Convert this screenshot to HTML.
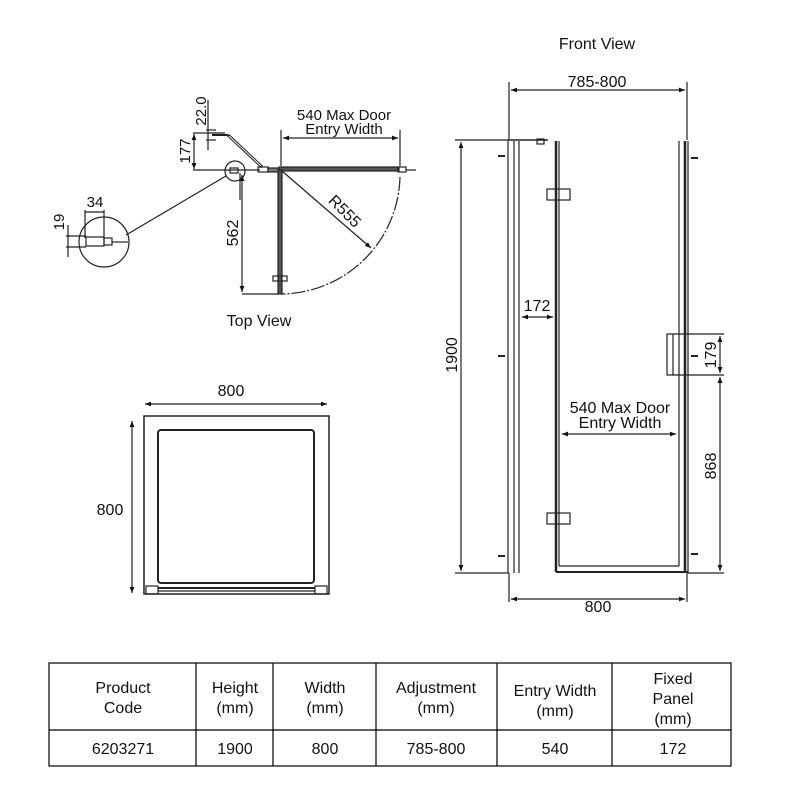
<!DOCTYPE html>
<html><head><meta charset="utf-8"><style>body{margin:0;background:#fff}svg{display:block}text{font-family:"Liberation Sans",sans-serif;fill:#111}</style></head><body>
<svg width="800" height="800" viewBox="0 0 800 800" xmlns="http://www.w3.org/2000/svg">
<defs><marker id="a" viewBox="0 0 10 10" refX="10" refY="5" markerWidth="8" markerHeight="6" orient="auto-start-reverse" markerUnits="userSpaceOnUse"><path d="M0,1L10,5L0,9z" fill="#111"/></marker></defs>
<g stroke="#222" fill="none" stroke-width="1.2">
<!-- TOP VIEW -->
<line x1="215" y1="170" x2="260" y2="170"/>
<rect x="258" y="167" width="10" height="5"/>
<rect x="268" y="168" width="12" height="4" fill="#777"/>
<rect x="279" y="167" width="120" height="4" fill="#555"/>
<rect x="398" y="167" width="8" height="5"/>
<line x1="406" y1="170" x2="416" y2="170"/>
<rect x="278" y="170" width="4" height="124" fill="#555"/>
<rect x="273" y="276" width="14" height="5"/>
<line x1="228" y1="135" x2="262" y2="167" stroke-width="3"/>
<line x1="229" y1="136" x2="261" y2="166" stroke="#fff" stroke-width="1"/>
<line x1="212" y1="135" x2="228" y2="135" stroke-width="2"/>
<circle cx="235" cy="171" r="10"/>
<rect x="230" y="168" width="8" height="5"/>
<circle cx="104" cy="242" r="25"/>
<rect x="86" y="237" width="18" height="9"/>
<rect x="104" y="238" width="8" height="7"/>
<line x1="112" y1="242" x2="128" y2="242"/>
<line x1="126" y1="235" x2="226" y2="176"/>
<path d="M400,177 A120,120 0 0,1 281,294" stroke-dasharray="14,2,2,2"/>
<line x1="282" y1="171" x2="371" y2="248" marker-end="url(#a)"/>
<line x1="281" y1="130" x2="281" y2="166"/><line x1="400" y1="130" x2="400" y2="166"/>
<line x1="283" y1="138" x2="398" y2="138" marker-start="url(#a)" marker-end="url(#a)"/>
<line x1="240" y1="173" x2="240" y2="200"/>
<line x1="242" y1="175" x2="242" y2="292" marker-start="url(#a)" marker-end="url(#a)"/>
<line x1="242" y1="294" x2="278" y2="294"/>
<line x1="193" y1="133" x2="225" y2="133"/>
<line x1="193" y1="170" x2="215" y2="170"/>
<line x1="194" y1="134" x2="194" y2="169" marker-start="url(#a)" marker-end="url(#a)"/>
<line x1="208" y1="100" x2="208" y2="150"/>
<line x1="206" y1="130" x2="216" y2="130"/><line x1="206" y1="140" x2="216" y2="140"/>
<line x1="85" y1="210" x2="85" y2="238"/><line x1="104" y1="210" x2="104" y2="238"/>
<line x1="85" y1="212" x2="104" y2="212"/>
<line x1="66" y1="236" x2="86" y2="236"/><line x1="66" y1="247" x2="86" y2="247"/>
<line x1="68" y1="225" x2="68" y2="257"/>
<!-- PLAN -->
<rect x="144" y="416" width="185" height="178" stroke-width="1.5"/>
<rect x="158" y="430" width="156" height="153" rx="3" stroke-width="2"/>
<rect x="146" y="586" width="12" height="8"/><rect x="315" y="586" width="12" height="8"/>
<line x1="158" y1="588" x2="315" y2="588" stroke-width="2"/>
<line x1="158" y1="591" x2="315" y2="591"/>
<line x1="145" y1="404" x2="327" y2="404" marker-start="url(#a)" marker-end="url(#a)"/>
<line x1="132" y1="421" x2="132" y2="593" marker-start="url(#a)" marker-end="url(#a)"/>
<!-- FRONT VIEW -->
<line x1="509" y1="82" x2="509" y2="140"/><line x1="687" y1="82" x2="687" y2="140"/>
<line x1="511" y1="90" x2="685" y2="90" marker-start="url(#a)" marker-end="url(#a)"/>
<line x1="509" y1="573" x2="509" y2="602"/><line x1="687" y1="573" x2="687" y2="602"/>
<line x1="511" y1="599" x2="685" y2="599" marker-start="url(#a)" marker-end="url(#a)"/>
<line x1="455" y1="140" x2="509" y2="140"/><line x1="455" y1="573" x2="509" y2="573"/>
<line x1="461" y1="142" x2="461" y2="571" marker-start="url(#a)" marker-end="url(#a)"/>
<line x1="508" y1="140" x2="508" y2="573"/>
<line x1="514" y1="141" x2="514" y2="573"/><line x1="519" y1="141" x2="519" y2="573"/>
<line x1="509" y1="140" x2="548" y2="140" stroke-width="1.5"/>
<rect x="537" y="139" width="7" height="5"/>
<line x1="556" y1="141" x2="556" y2="572" stroke-width="2.5"/>
<line x1="559" y1="141" x2="559" y2="566"/>
<line x1="679" y1="141" x2="679" y2="566"/>
<line x1="559" y1="566" x2="679" y2="566"/>
<line x1="556" y1="572" x2="688" y2="572" stroke-width="2"/>
<line x1="685" y1="141" x2="685" y2="573" stroke-width="2.5"/>
<line x1="688" y1="141" x2="688" y2="573"/>
<rect x="547" y="189" width="23" height="11"/><rect x="547" y="513" width="23" height="11"/>
<rect x="667" y="334" width="6" height="41"/>
<line x1="673" y1="334" x2="724" y2="334"/><line x1="673" y1="375" x2="724" y2="375"/>
<line x1="720" y1="336" x2="720" y2="373" marker-start="url(#a)" marker-end="url(#a)"/>
<line x1="688" y1="573" x2="724" y2="573"/>
<line x1="720" y1="377" x2="720" y2="571" marker-start="url(#a)" marker-end="url(#a)"/>
<line x1="522" y1="317" x2="553" y2="317" marker-start="url(#a)" marker-end="url(#a)"/>
<line x1="562" y1="434" x2="676" y2="434" marker-start="url(#a)" marker-end="url(#a)"/>
<g stroke-width="2"><line x1="498" y1="156" x2="505" y2="156"/><line x1="498" y1="356" x2="505" y2="356"/><line x1="498" y1="556" x2="505" y2="556"/><line x1="691" y1="158" x2="698" y2="158"/><line x1="691" y1="356" x2="698" y2="356"/><line x1="691" y1="554" x2="698" y2="554"/></g>
<!-- TABLE -->
<rect x="49" y="663" width="682" height="103" stroke="#000"/>
<line x1="49" y1="730" x2="731" y2="730" stroke="#000"/>
<g stroke="#000"><line x1="196" y1="663" x2="196" y2="766"/><line x1="273" y1="663" x2="273" y2="766"/><line x1="376" y1="663" x2="376" y2="766"/><line x1="497" y1="663" x2="497" y2="766"/><line x1="612" y1="663" x2="612" y2="766"/></g>
</g>
<g font-size="16" text-anchor="middle">
<text x="597" y="49">Front View</text>
<text x="597" y="87">785-800</text>
<text x="598" y="612">800</text>
<text x="537" y="311">172</text>
<text x="620" y="413">540 Max Door</text><text x="620" y="428">Entry Width</text>
<text transform="translate(457,355) rotate(-90)">1900</text>
<text transform="translate(716,355) rotate(-90)">179</text>
<text transform="translate(716,466) rotate(-90)">868</text>
<text x="344" y="120" font-size="15">540 Max Door</text><text x="344" y="134" font-size="15">Entry Width</text>
<text transform="translate(341,215) rotate(45)">R555</text>
<text transform="translate(238,233) rotate(-90)">562</text>
<text transform="translate(190,151) rotate(-90)" font-size="15">177</text>
<text transform="translate(206,111) rotate(-90)" font-size="15">22.0</text>
<text x="95" y="207" font-size="15">34</text>
<text transform="translate(64,222) rotate(-90)" font-size="15">19</text>
<text x="259" y="326">Top View</text>
<text x="231" y="396">800</text>
<text x="110" y="515">800</text>
<text x="123" y="693">Product</text><text x="123" y="713">Code</text>
<text x="235" y="693">Height</text><text x="235" y="713">(mm)</text>
<text x="325" y="693">Width</text><text x="325" y="713">(mm)</text>
<text x="436" y="693">Adjustment</text><text x="436" y="713">(mm)</text>
<text x="555" y="696">Entry Width</text><text x="555" y="716">(mm)</text>
<text x="673" y="684">Fixed</text><text x="673" y="704">Panel</text><text x="673" y="724">(mm)</text>
<text x="123" y="754">6203271</text><text x="235" y="754">1900</text><text x="325" y="754">800</text><text x="436" y="754">785-800</text><text x="555" y="754">540</text><text x="673" y="754">172</text>
</g>
</svg>
</body></html>
